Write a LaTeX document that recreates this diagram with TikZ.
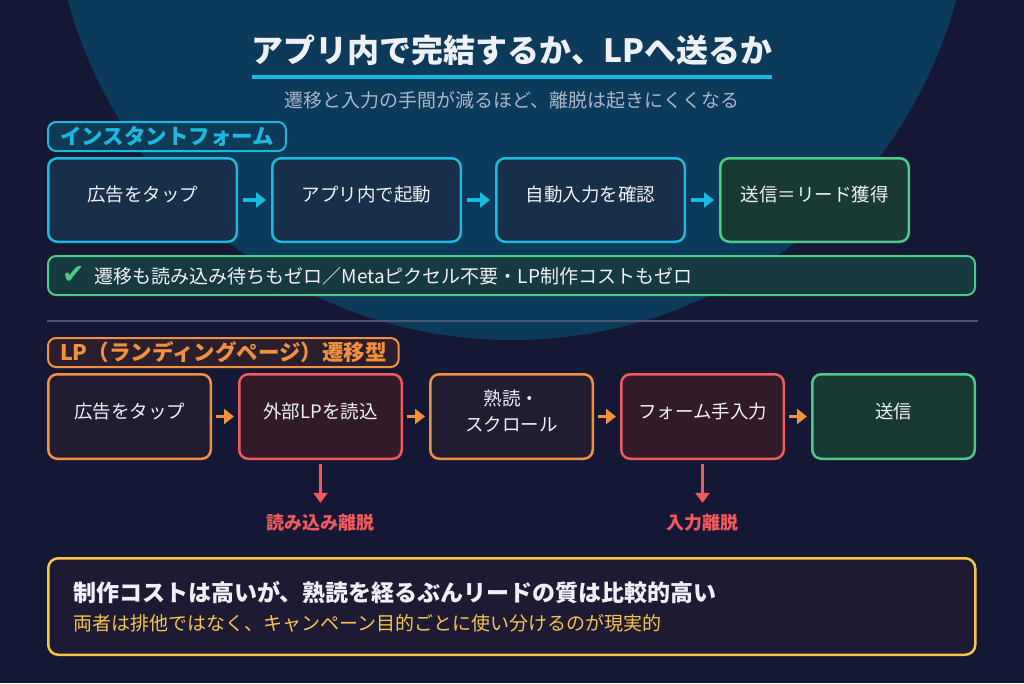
\documentclass[tikz,border=0pt]{standalone}
\usepackage{fontspec}
\setmainfont{Noto Sans CJK JP}
\newfontfamily\symfont{DejaVu Sans}
\usepackage{xcolor}
\usepackage{tikz}
\usetikzlibrary{arrows.meta, positioning, calc}

\definecolor{bgnavy}{HTML}{141834}
\definecolor{bgcircle}{HTML}{0C3A5A}
\definecolor{accentcyan}{HTML}{1BB8E0}
\definecolor{cyanfill}{HTML}{172F48}
\definecolor{cyanlabelfill}{HTML}{0E3A55}
\definecolor{accentgreen}{HTML}{4DC98A}
\definecolor{greenfill}{HTML}{183A33}
\definecolor{chkfill}{HTML}{173A40}
\definecolor{accentorange}{HTML}{F2913D}
\definecolor{orangefill}{HTML}{221C30}
\definecolor{orangelabelfill}{HTML}{2B1F2D}
\definecolor{accentred}{HTML}{EE5A5E}
\definecolor{redfill}{HTML}{331A28}
\definecolor{accentyellow}{HTML}{F5C54C}
\definecolor{notefill}{HTML}{1E1A34}
\definecolor{sepgrey}{HTML}{4A5577}
\definecolor{txtwhite}{HTML}{EEF2F8}
\definecolor{subgrey}{HTML}{A9B7C8}

\begin{document}
\begin{tikzpicture}[x=1pt, y=-1pt,
  stepbox/.style={draw, rounded corners=9pt, line width=2.5pt, text=txtwhite,
    font=\fontsize{18.5}{26}\selectfont, align=center, text depth=12pt},
  instbox/.style={stepbox, draw=accentcyan, fill=cyanfill,
    minimum width=188.5pt, minimum height=83.5pt},
  lpbox/.style={stepbox, minimum width=162.5pt, minimum height=84.5pt},
  warnbox/.style={lpbox, draw=accentorange, fill=orangefill},
  dropbox/.style={lpbox, draw=accentred, fill=redfill},
  donebox/.style={draw=accentgreen, fill=greenfill},
  sectlabel/.style={draw, line width=2pt, rounded corners=8pt, anchor=west,
    font=\fontsize{21.5}{26}\selectfont\bfseries, inner xsep=12pt, minimum height=29pt},
  flowcyan/.style={accentcyan, line width=4pt, shorten <=5pt, shorten >=5pt,
    -{Triangle[length=10pt, width=15pt]}},
  floworange/.style={flowcyan, accentorange, line width=3.5pt, shorten <=4pt, shorten >=4pt},
  droparrow/.style={accentred, line width=3pt, shorten <=4pt, shorten >=8pt,
    -{Triangle[length=10pt, width=14pt]}},
  losslabel/.style={text=accentred, font=\fontsize{18}{22}\selectfont\bfseries}
]
  % Background
  \useasboundingbox (0,0) rectangle (1024,683);
  \clip (0,0) rectangle (1024,683);
  \fill[bgnavy] (0,0) rectangle (1024,683);
  \fill[bgcircle] (512,-120) circle (460);

  % Title
  \node[text=txtwhite, font=\fontsize{32}{36}\selectfont\bfseries, inner xsep=0pt, inner ysep=11.5pt]
    (ttl) at (512,50) {アプリ内で完結するか、LPへ送るか};
  \draw[accentcyan, line width=3.5pt] (ttl.south west) -- (ttl.south east);
  \node[text=subgrey, font=\fontsize{19}{24}\selectfont] (sub) at (512,100)
    {遷移と入力の手間が減るほど、離脱は起きにくくなる};

  % Instant form flow
  \node[sectlabel, draw=accentcyan, fill=cyanlabelfill, text=accentcyan] (lblinst) at (47,136.5)
    {インスタントフォーム};
  \node[instbox] (b11) at (142.5,200) {広告をタップ};
  \node[instbox, right=33pt of b11] (b12) {アプリ内で起動};
  \node[instbox, right=33pt of b12] (b13) {自動入力を確認};
  \node[instbox, donebox, right=33pt of b13] (b14) {送信＝リード獲得};

  \draw[flowcyan] (b11) -- (b12);
  \draw[flowcyan] (b12) -- (b13);
  \draw[flowcyan] (b13) -- (b14);

  \node[draw=accentgreen, fill=chkfill, line width=2pt, rounded corners=8pt, anchor=west,
    minimum height=39pt, text width=899pt, inner xsep=14pt, align=left, text=txtwhite,
    font=\fontsize{19}{24}\selectfont] (chk) at (47,275.5)
    {{\symfont\fontsize{27}{27}\selectfont\color{accentgreen}✔}\hspace{10pt}遷移も読み込み待ちもゼロ／Metaピクセル不要・LP制作コストもゼロ};

  % Separator
  \draw[sepgrey, line width=2pt] (47,321) -- (978,321);

  % LP flow
  \node[sectlabel, draw=accentorange, fill=orangelabelfill, text=accentorange] (lbllp) at (47,352.5)
    {LP（ランディングページ）遷移型};
  \node[warnbox] (b21) at (129.5,416.5) {広告をタップ};
  \node[dropbox, right=26pt of b21] (b22) {外部LPを読込};
  \node[warnbox, right=26pt of b22] (b23) {熟読・\\スクロール};
  \node[dropbox, right=26pt of b23] (b24) {フォーム手入力};
  \node[lpbox, donebox, right=26pt of b24] (b25) {送信};

  \draw[floworange] (b21) -- (b22);
  \draw[floworange] (b22) -- (b23);
  \draw[floworange] (b23) -- (b24);
  \draw[floworange] (b24) -- (b25);

  % Drop-off points
  \node[losslabel] (loss1) at (320.5,523) {読み込み離脱};
  \node[losslabel] (loss2) at (702.5,523) {入力離脱};
  \draw[droparrow] (b22) -- (loss1);
  \draw[droparrow] (b24) -- (loss2);

  % Summary
  \node[draw=accentyellow, fill=notefill, line width=2.5pt, rounded corners=10pt, anchor=west,
    minimum height=96.5pt, text width=877pt, inner xsep=25pt, align=left,
    font=\fontsize{19}{29}\selectfont] (note) at (47,606.5)
    {{\color{txtwhite}\fontsize{23}{29}\selectfont\bfseries 制作コストは高いが、熟読を経るぶんリードの質は比較的高い}\\
     {\color{accentyellow}両者は排他ではなく、キャンペーン目的ごとに使い分けるのが現実的}};
\end{tikzpicture}
\end{document}
